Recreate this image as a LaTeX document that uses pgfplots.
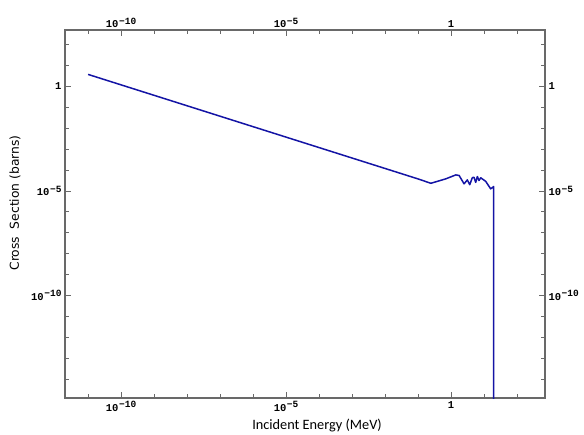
\documentclass[border=0pt]{standalone}
\usepackage{fontspec}
\setmainfont{Carlito}
\newfontfamily\ylabfont{DejaVu Sans}
\newfontfamily\tickfont{Liberation Mono}
\usepackage{pgfplots}
\pgfplotsset{compat=1.18}
\definecolor{curve}{RGB}{20,20,165}
\definecolor{frame}{RGB}{105,105,105}
% exponent as set in the original: almost full size, raised
\newcommand{\ex}[1]{\kern0.6pt\raisebox{3.8pt}{\fontsize{9.5}{10}\selectfont #1}}

\begin{document}
\begin{tikzpicture}
\begin{axis}[
  scale only axis,
  width=480pt, height=368pt,
  xmode=log, ymode=log,
  xmin=2e-12, xmax=7e2,
  ymin=1.25e-15, ymax=5e2,
  axis line style={frame, line width=1.1pt},
  every tick/.style={frame, line width=0.9pt},
  tick align=inside,
  major tick length=6pt, minor tick length=4pt,
  xtick={1e-10,1e-5,1},
  ytick={1e-10,1e-5,1},
  xticklabels={10\ex{−10},10\ex{−5},1},
  yticklabels={10\ex{−10},10\ex{−5},1},
  minor xtick={1e-11,1e-9,1e-8,1e-7,1e-6,1e-4,1e-3,1e-2,1e-1,1e1,1e2},
  minor ytick={1e-15,1e-14,1e-13,1e-12,1e-11,1e-9,1e-8,1e-7,1e-6,1e-4,1e-3,1e-2,1e-1,1e1,1e2},
  tick label style={font=\tickfont\bfseries\fontsize{10.5}{12}\selectfont},
  tick pos=both,
  xticklabel pos=bottom, yticklabel pos=left,
  xlabel={Incident Energy (MeV)},
  ylabel={Cross\ \ Section (barns)},
  xlabel style={at={(axis description cs:0.525,-0.074)}, anchor=center, font=\fontsize{14.3}{16}\selectfont},
  ylabel style={at={(axis description cs:-0.104,0.53)}, anchor=center, font=\ylabfont\fontsize{12.3}{14}\selectfont},
]
\addplot[curve, line width=1.5pt, line join=round] coordinates {
  (1e-11,3.76) (1e-9,0.376) (1e-7,0.0376) (1e-5,3.76e-3) (1e-3,3.76e-4)
  (1e-2,1.19e-4) (0.1,3.76e-5) (0.2437,2.33e-5)
  (0.69,3.8e-5) (1.39,5.87e-5) (1.75,5.5e-5) (2.47,2.19e-5) (3.10,3.39e-5)
  (3.67,2.0e-5) (4.41,4.37e-5) (4.95,4.47e-5) (5.57,2.57e-5) (6.24,4.9e-5)
  (7.01,3.16e-5) (7.89,4.27e-5) (11.2,2.88e-5) (15.8,1.26e-5) (19.5,1.62e-5)
  (19.5,1e-17)
};
\coordinate (bl) at (rel axis cs:0,0);
\coordinate (tr) at (rel axis cs:1,1);
\end{axis}
\begin{axis}[
  scale only axis,
  width=480pt, height=368pt,
  xmode=log, ymode=log,
  xmin=2e-12, xmax=7e2,
  ymin=1.25e-15, ymax=5e2,
  axis line style={draw=none},
  xtick={1e-10,1e-5,1},
  ytick={1e-10,1e-5,1},
  xticklabels={10\ex{−10},10\ex{−5},1},
  yticklabels={10\ex{−10},10\ex{−5},1},
  tick label style={font=\tickfont\bfseries\fontsize{10.5}{12}\selectfont},
  xticklabel style={yshift=-1.5pt},
  minor tick num=0,
  major tick length=0pt,
  xtick pos=right, ytick pos=right,
  xticklabel pos=right, yticklabel pos=right,
]
\end{axis}
\pgfresetboundingbox
\path ([shift={(-65pt,-36pt)}]bl) rectangle ([shift={(39pt,30pt)}]tr);
\end{tikzpicture}
\end{document}
